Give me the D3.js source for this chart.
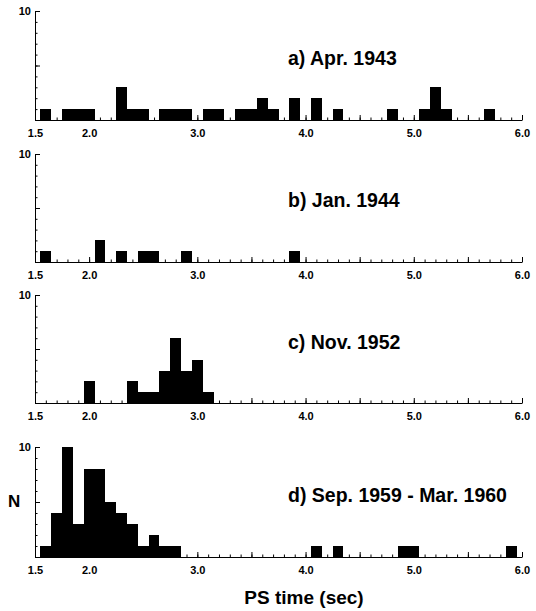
<!DOCTYPE html>
<html>
<head>
<meta charset="utf-8">
<script src="https://cdn.jsdelivr.net/npm/d3@7"></script>
<style>
  body { margin: 0; background: #fff; }
  text { font-family: "Liberation Sans", Arial, Helvetica, sans-serif; font-weight: bold; }
</style>
</head>
<body>
<div id="chart"></div>
<script>
// PS time histograms, bin width 0.1 s (bin centres + counts, empty bins left out)
const aprBins   = [1.6, 1.8, 1.9, 2.0, 2.3, 2.4, 2.5, 2.7, 2.8, 2.9, 3.1, 3.2, 3.4, 3.5, 3.6, 3.7, 3.9, 4.1, 4.3, 4.8, 5.1, 5.2, 5.3, 5.7];
const aprCounts = [1,   1,   1,   1,   3,   1,   1,   1,   1,   1,   1,   1,   1,   1,   2,   1,   2,   2,   1,   1,   1,   3,   1,   1];

const janBins   = [1.6, 2.1, 2.3, 2.5, 2.6, 2.9, 3.9];
const janCounts = [1,   2,   1,   1,   1,   1,   1];

const novBins   = [2.0, 2.4, 2.5, 2.6, 2.7, 2.8, 2.9, 3.0, 3.1];
const novCounts = [2,   2,   1,   1,   3,   6,   3,   4,   1];

const sepBins   = [1.6, 1.7, 1.8, 1.9, 2.0, 2.1, 2.2, 2.3, 2.4, 2.5, 2.6, 2.7, 2.8, 4.1, 4.3, 4.9, 5.0, 5.9];
const sepCounts = [1,   4,   10,  3,   8,   8,   5,   4,   3,   1,   2,   1,   1,   1,   1,   1,   1,   1];

const panelTitles = ["a) Apr. 1943", "b) Jan. 1944", "c) Nov. 1952", "d) Sep. 1959 - Mar. 1960"];
const xLabelTicks = [1.5, 2.0, 3.0, 4.0, 5.0, 6.0];
const yLabelTicks = [10];
const binWidth = 0.1;

const width = 536;
const height = 611;

const svg = d3.select('#chart')
  .append('svg')
  .attr('width', width)
  .attr('height', height);

const x = d3.scaleLinear()
  .domain([1.5, 6.0])
  .range([35, 522]);

// tick positions (every 0.1 minor, every 0.5 major)
const xMinor = d3.range(15, 61).map(d => d / 10);
const xMajor = d3.range(3, 13).map(d => d / 2);

const panels = [
  { title: panelTitles[0], bins: aprBins, counts: aprCounts, top: 11,  bottom: 120, titleY: 65 },
  { title: panelTitles[1], bins: janBins, counts: janCounts, top: 154, bottom: 262, titleY: 207 },
  { title: panelTitles[2], bins: novBins, counts: novCounts, top: 295, bottom: 403, titleY: 349 },
  { title: panelTitles[3], bins: sepBins, counts: sepCounts, top: 447, bottom: 557, titleY: 502 },
];

function drawPanel(p) {
  const y = d3.scaleLinear()
    .domain([0, 10])
    .range([p.bottom, p.top]);

  const g = svg.append("g");
  const data = p.bins.map((b, i) => ({ bin: b, n: p.counts[i] }));

  g.append("g")
    .attr("fill", "#000")
    .attr("shape-rendering", "crispEdges")
    .selectAll("rect")
    .data(data)
    .join("rect")
    .attr("x", d => x(d.bin - binWidth / 2))
    .attr("width", d => x(d.bin + binWidth / 2) - x(d.bin - binWidth / 2))
    .attr("y", d => y(d.n))
    .attr("height", d => y(0) - y(d.n));

  // x axis: minor ticks, major ticks, labels
  const xg = g.append("g").attr("transform", `translate(0,${p.bottom})`);
  xg.append("g")
    .call(d3.axisBottom(x).tickValues(xMinor).tickSizeInner(-2.5).tickSizeOuter(0).tickFormat(""));
  xg.append("g")
    .call(d3.axisBottom(x).tickValues(xMajor).tickSizeInner(-5).tickSizeOuter(0).tickFormat(""))
    .call(a => a.select(".domain").remove());
  xg.append("g")
    .call(d3.axisBottom(x).tickValues(xLabelTicks).tickSize(0).tickPadding(9).tickFormat(d3.format(".1f")))
    .call(a => a.select(".domain").remove())
    .attr("font-size", 11)
    .attr("font-family", null);

  // y axis
  const yg = g.append("g").attr("transform", `translate(${x(1.5)},0)`);
  yg.append("g")
    .call(d3.axisLeft(y).ticks(10).tickSizeInner(-2.5).tickSizeOuter(0).tickFormat(""));
  yg.append("g")
    .call(d3.axisLeft(y).tickValues([0, 5, 10]).tickSizeInner(-5).tickSizeOuter(0).tickFormat(""))
    .call(a => a.select(".domain").remove());
  yg.append("g")
    .call(d3.axisLeft(y).tickValues(yLabelTicks).tickSize(0).tickPadding(4))
    .call(a => a.select(".domain").remove())
    .attr("font-size", 11)
    .attr("font-family", null);

  g.append("text")
    .attr("x", 288)
    .attr("y", p.titleY)
    .attr("font-size", 19.5)
    .text(p.title);
}

panels.forEach(drawPanel);

svg.append("text")
  .attr("x", 8)
  .attr("y", 507)
  .attr("font-size", 17)
  .text("N");

svg.append("text")
  .attr("x", 304)
  .attr("y", 604)
  .attr("text-anchor", "middle")
  .attr("font-size", 19)
  .text("PS time (sec)");
</script>
</body>
</html>
